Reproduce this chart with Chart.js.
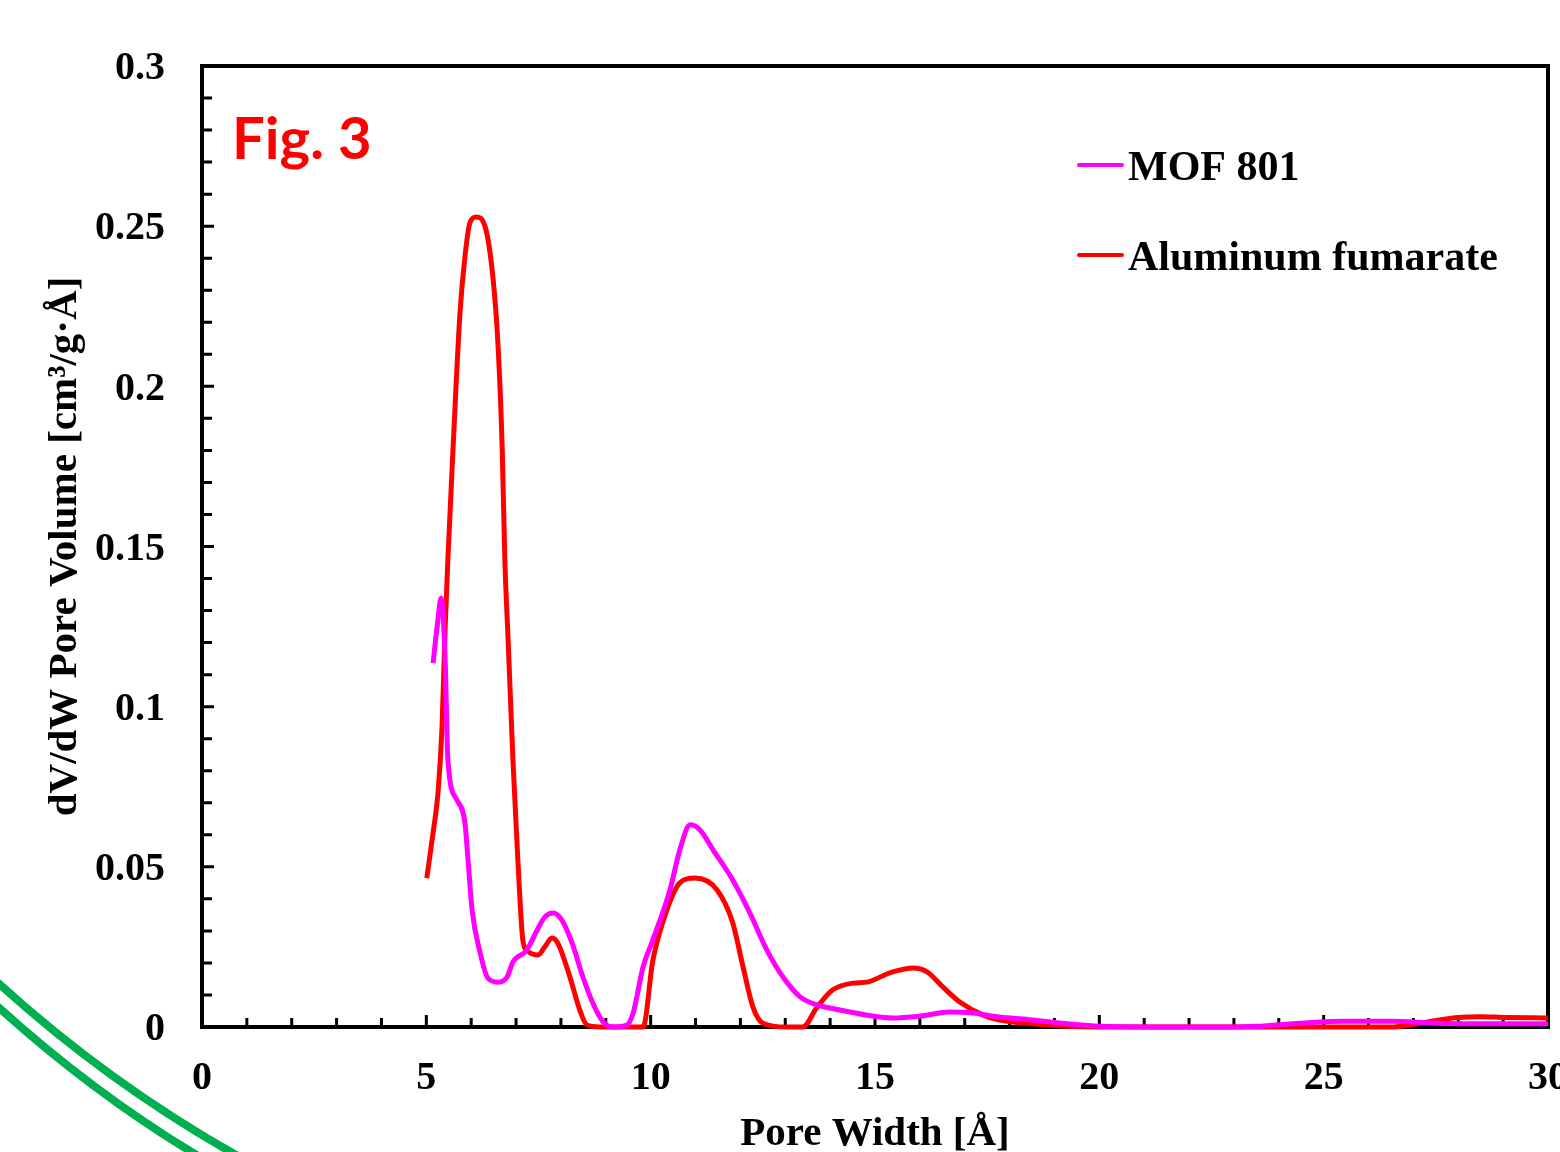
<!DOCTYPE html>
<html>
<head>
<meta charset="utf-8">
<script src="https://cdn.jsdelivr.net/npm/chart.js@4.4.1/dist/chart.umd.min.js"></script>
<style>
    html, body { margin: 0; padding: 0; background: #fff; overflow: hidden; }
    #wrap { width: 1600px; height: 1152px; }
</style>
</head>
<body>
<div id="wrap"><canvas id="psdChart" width="1600" height="1152"></canvas></div>
<script>
// Pore size distribution
const mofWidth = [5.15, 5.24, 5.33, 5.42, 5.48, 5.68, 5.86, 5.93, 6.02, 6.20, 6.37, 6.60, 6.80, 6.93, 7.24, 7.47, 7.64, 7.82, 8.02, 8.25,
    8.49, 8.71, 8.94, 9.16, 9.47, 9.61, 9.83, 10.05, 10.43, 10.65, 10.88, 11.10, 11.39, 11.83, 12.21, 12.59, 12.95, 13.33, 13.71, 14.22,
    14.82, 15.40, 16.00, 16.67, 17.18, 17.78, 18.5, 19.3, 20, 21, 23, 23.5, 24.5, 25.5, 26.5, 27.5, 28.5, 30];
const mofVolume = [0.1136, 0.1249, 0.1339, 0.1146, 0.0834, 0.0709, 0.0637, 0.0521, 0.0365, 0.0231, 0.0153, 0.0140, 0.0156, 0.0203, 0.0240, 0.0303, 0.0343, 0.0356, 0.0334, 0.0262,
    0.0156, 0.0075, 0.0016, 0, 0.0006, 0.0044, 0.0187, 0.0272, 0.0428, 0.0553, 0.0631, 0.0615, 0.0553, 0.0459, 0.0356, 0.0240, 0.0156, 0.0094, 0.0069, 0.0053,
    0.0037, 0.0028, 0.0034, 0.0047, 0.0044, 0.0031, 0.0022, 0.0010, 0.0002, 0, 0, 0.0002, 0.0012, 0.0018, 0.0018, 0.0012, 0.0010, 0.0010];

const alfumWidth = [5.01, 5.15, 5.26, 5.35, 5.42, 5.48, 5.57, 5.75, 5.86, 5.97, 6.11, 6.31, 6.49, 6.60, 6.69, 6.75, 6.82, 6.93, 7.04, 7.15,
    7.24, 7.49, 7.64, 7.80, 7.93, 8.20, 8.42, 8.58, 8.87, 9.83, 10.05, 10.36, 10.65, 10.99, 11.48, 11.83, 12.06, 12.28, 12.50, 13.04,
    13.39, 13.71, 14.06, 14.51, 14.82, 15.33, 15.85, 16.16, 16.51, 16.89, 17.41, 17.78, 18.5, 19.3, 20, 26.5, 27, 27.5, 28, 28.5, 29, 30];
const alfumVolume = [0.0465, 0.0606, 0.0731, 0.0937, 0.1249, 0.1458, 0.1730, 0.2229, 0.2404, 0.2510, 0.2529, 0.2498, 0.2332, 0.2123, 0.1811, 0.1458, 0.1218, 0.0834, 0.0521, 0.0272,
    0.0240, 0.0225, 0.0250, 0.0278, 0.0262, 0.0156, 0.0053, 0.0006, 0, 0, 0.0209, 0.0365, 0.0450, 0.0465, 0.0428, 0.0325, 0.0187, 0.0062, 0.0012, 0,
    0, 0.0062, 0.0116, 0.0137, 0.0140, 0.0169, 0.0184, 0.0172, 0.0125, 0.0078, 0.0037, 0.0022, 0.0010, 0.0002, 0, 0, 0.0008, 0.0020, 0.0030, 0.0032, 0.0030, 0.0028];

const seriesNames = ['MOF 801', 'Aluminum fumarate'];
const seriesColors = ['#ff00ff', '#ff0000'];

const serif = '"Liberation Serif", "Times New Roman", serif';

const toPoints = (xs, ys) => xs.map((x, i) => ({ x: x, y: ys[i] }));

// green swoosh in the bottom-left corner (slide decoration)
const decoPlugin = {
    id: 'deco',
    beforeDraw(chart) {
        const ctx = chart.ctx;
        ctx.save();
        ctx.strokeStyle = '#00b050';
        ctx.lineWidth = 8;
        ctx.beginPath();
        ctx.moveTo(-5, 980);
        ctx.quadraticCurveTo(110, 1085, 245, 1160);
        ctx.stroke();
        ctx.beginPath();
        ctx.moveTo(-5, 1004);
        ctx.quadraticCurveTo(95, 1095, 205, 1160);
        ctx.stroke();
        ctx.restore();
    }
};

// box frame with inward ticks, label and legend
const framePlugin = {
    id: 'frame',
    beforeDatasetsDraw(chart) {
        const { ctx, chartArea: a, scales: { x, y } } = chart;
        ctx.save();
        ctx.strokeStyle = '#000';
        ctx.lineWidth = 4;
        ctx.strokeRect(a.left, a.top, a.right - a.left, a.bottom - a.top);
        ctx.lineWidth = 3;
        ctx.beginPath();
        for (let v = 0; v <= 30; v++) {
            const px = x.getPixelForValue(v);
            const len = v % 5 === 0 ? 12 : 9;
            ctx.moveTo(px, a.bottom);
            ctx.lineTo(px, a.bottom - len);
        }
        for (let k = 0; k <= 30; k++) {
            const py = y.getPixelForValue(k / 100);
            const len = k % 5 === 0 ? 12 : 10;
            ctx.moveTo(a.left, py);
            ctx.lineTo(a.left + len, py);
        }
        ctx.stroke();
        ctx.restore();
    },
    afterDraw(chart) {
        const ctx = chart.ctx;
        ctx.save();
        ctx.fillStyle = '#ff0000';
        ctx.font = 'bold 58px Lato, "Noto Sans", sans-serif';
        ctx.textBaseline = 'alphabetic';
        ctx.fillText('Fig. 3', 232, 159);

        chart.data.datasets.forEach((ds, i) => {
            const yy = 165 + i * 90;
            ctx.strokeStyle = ds.borderColor;
            ctx.lineWidth = 4;
            ctx.lineCap = 'round';
            ctx.beginPath();
            ctx.moveTo(1079, yy);
            ctx.lineTo(1122, yy);
            ctx.stroke();
            ctx.fillStyle = '#000';
            ctx.font = 'bold 42px ' + serif;
            ctx.fillText(ds.label, 1128, yy + 15);
        });
        ctx.restore();
    }
};

new Chart(document.getElementById('psdChart'), {
    type: 'line',
    data: {
        datasets: [
            { label: seriesNames[0], data: toPoints(mofWidth, mofVolume), borderColor: seriesColors[0] },
            { label: seriesNames[1], data: toPoints(alfumWidth, alfumVolume), borderColor: seriesColors[1] }
        ]
    },
    options: {
        responsive: false,
        animation: false,
        devicePixelRatio: 1,
        layout: { padding: { left: 0, top: 66, right: 52, bottom: 0 } },
        elements: {
            line: { borderWidth: 5, tension: 0.4, cubicInterpolationMode: 'monotone', fill: false },
            point: { radius: 0 }
        },
        datasets: { line: { clip: false } },
        plugins: { legend: { display: false }, tooltip: { enabled: false } },
        scales: {
            x: {
                type: 'linear',
                min: 0,
                max: 30,
                grid: { display: false, drawTicks: false },
                border: { display: false },
                ticks: { stepSize: 5, color: '#000', padding: 28, font: { family: serif, size: 40, weight: 'bold' } },
                title: {
                    display: true,
                    text: 'Pore Width [Å]',
                    color: '#000',
                    padding: { top: 0, bottom: 0 },
                    font: { family: serif, size: 41, weight: 'bold', lineHeight: 0.86 }
                },
                afterFit: (scale) => { scale.height = 125; }
            },
            y: {
                min: 0,
                max: 0.3,
                grid: { display: false, drawTicks: false },
                border: { display: false },
                ticks: {
                    stepSize: 0.05,
                    color: '#000',
                    padding: 37,
                    labelOffset: 3,
                    font: { family: serif, size: 40, weight: 'bold' },
                    callback: (v) => String(+v.toFixed(2))
                },
                title: {
                    display: true,
                    text: 'dV/dW Pore Volume [cm³/g·Å]',
                    color: '#000',
                    padding: { top: 41, bottom: 0 },
                    font: { family: serif, size: 41, weight: 'bold' }
                },
                afterFit: (scale) => { scale.width = 202; }
            }
        }
    },
    plugins: [decoPlugin, framePlugin]
});
</script>
</body>
</html>
